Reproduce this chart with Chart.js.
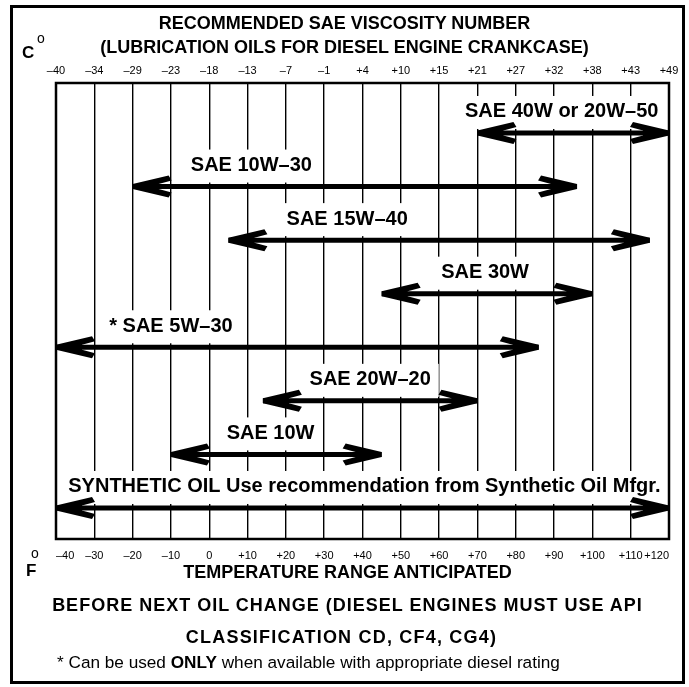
<!DOCTYPE html>
<html>
<head>
<meta charset="utf-8">
<title>Recommended SAE viscosity number</title>
<script src="https://cdn.jsdelivr.net/npm/chart.js@4.4.1/dist/chart.umd.min.js"></script>
<style>
  html, body { margin: 0; padding: 0; background: #fff; }
  body { width: 689px; height: 687px; position: relative; overflow: hidden; font-family: "Liberation Sans", Arial, sans-serif; color: #000; }
  #frame { position: absolute; left: 10px; top: 5px; width: 669px; height: 673px; border: 3px solid #000; }
  #oilChart { position: absolute; left: 0; top: 0; }
  .line { position: absolute; left: 0; width: 689px; text-align: center; white-space: nowrap; font-weight: bold; font-size: 18px; line-height: 1; }
  .unit { position: absolute; font-weight: bold; font-size: 17px; line-height: 1; }
  .deg { position: absolute; font-size: 14px; line-height: 1; }
  .note { position: absolute; left: 57px; top: 654px; white-space: nowrap; font-size: 17.2px; line-height: 1; }
</style>
</head>
<body>
<div id="frame"></div>
<canvas id="oilChart" width="689" height="687"></canvas>

<div class="line" style="top:14px">RECOMMENDED SAE VISCOSITY NUMBER</div>
<div class="line" style="top:38px">(LUBRICATION OILS FOR DIESEL ENGINE CRANKCASE)</div>
<div class="unit" style="left:22px; top:44px">C</div>
<div class="deg" style="left:37px; top:31px">o</div>
<div class="unit" style="left:26px; top:562px">F</div>
<div class="deg" style="left:31px; top:546px">o</div>

<div class="line" style="top:563px; left:3px">TEMPERATURE RANGE ANTICIPATED</div>
<div class="line" style="top:596px; left:3px; letter-spacing:1px">BEFORE NEXT OIL CHANGE (DIESEL ENGINES MUST USE API</div>
<div class="line" style="top:628px; left:-3px; letter-spacing:1.2px">CLASSIFICATION CD, CF4, CG4)</div>
<div class="note">* Can be used <b>ONLY</b> when available with appropriate diesel rating</div>

<script>
// oil grades, top to bottom, with the temperature span of each arrow (deg F)
const oilGrades = [
    "SAE 40W or 20W\u201350",
    "SAE 10W\u201330",
    "SAE 15W\u201340",
    "SAE 30W",
    "* SAE 5W\u201330",
    "SAE 20W\u201320",
    "SAE 10W",
    "SYNTHETIC OIL Use recommendation from Synthetic Oil Mfgr."
];
const lowTempF = [70, -20, 5, 45, -40, 14, -10, -40];
const highTempF = [120, 96, 115, 100, 86, 70, 45, 120];

// axis ticks: Fahrenheit along the bottom, matching Celsius along the top
const fahrenheitTicks = [-40, -30, -20, -10, 0, 10, 20, 30, 40, 50, 60, 70, 80, 90, 100, 110, 120];
const celsiusTicks = ["\u201340", "\u201334", "\u201329", "\u201323", "\u201318", "\u201313", "\u20137", "\u20131",
    "+4", "+10", "+15", "+21", "+27", "+32", "+38", "+43", "+49"];

// where each grade's caption sits along the temperature axis
const captionAtF = [92, 11, 36, 72, -10, 42, 16, 40.5];

const signed = (v) => (v > 0 ? "+" + v : v < 0 ? "\u2013" + Math.abs(v) : "0");

const datasets = oilGrades.map((name, i) => ({
    label: name,
    data: [{ x: lowTempF[i], y: i }, { x: highTempF[i], y: i }],
    showLine: true,
    borderColor: "#000",
    borderWidth: 5,
    borderCapStyle: "butt",
    pointRadius: 0,
    pointHoverRadius: 0,
    clip: false
}));

// barbed head, tip at (tx, ty); dir 1 = points right, -1 = points left
function drawHead(ctx, tx, ty, dir) {
    const p = (dx, dy) => [tx - dir * dx, ty + dy];
    const pts = [p(0, -2.5), p(36, -11), p(39, -6), p(26, -2.5), p(26, 2.5), p(39, 6), p(36, 11), p(0, 2.5)];
    ctx.beginPath();
    ctx.moveTo(pts[0][0], pts[0][1]);
    pts.slice(1).forEach(q => ctx.lineTo(q[0], q[1]));
    ctx.closePath();
    ctx.fill();
}

const arrowPlugin = {
    id: "arrows",
    beforeDatasetsDraw(chart) {
        const ctx = chart.ctx;
        const xs = chart.scales.x, ys = chart.scales.y;
        ctx.save();
        ctx.font = "bold 20px 'Liberation Sans', Arial, sans-serif";
        ctx.textAlign = "center";
        ctx.textBaseline = "middle";
        oilGrades.forEach((name, i) => {
            const cx = xs.getPixelForValue(captionAtF[i]);
            const rowY = ys.getPixelForValue(i);
            const w = ctx.measureText(name).width;
            ctx.fillStyle = "#fff";
            ctx.fillRect(cx - w / 2 - 8, rowY - 37, w + 16, 33);
            ctx.fillStyle = "#000";
            ctx.fillText(name, cx, rowY - 21);
        });
        ctx.restore();
    },
    afterDatasetsDraw(chart) {
        const ctx = chart.ctx;
        ctx.save();
        ctx.fillStyle = "#000";
        chart.data.datasets.forEach((ds, i) => {
            const pts = chart.getDatasetMeta(i).data;
            drawHead(ctx, pts[0].x, pts[0].y, -1);
            drawHead(ctx, pts[1].x, pts[1].y, 1);
        });
        const a = chart.chartArea;
        ctx.strokeStyle = "#000";
        ctx.lineWidth = 2.5;
        ctx.strokeRect(a.left, a.top, a.right - a.left, a.bottom - a.top);
        ctx.restore();
    }
};

const tickFont = { family: "'Liberation Sans', Arial, sans-serif", size: 11 };

new Chart(document.getElementById("oilChart").getContext("2d"), {
    type: "scatter",
    data: { datasets: datasets },
    options: {
        responsive: false,
        animation: false,
        devicePixelRatio: 1,
        events: [],
        layout: { padding: { left: 56, right: 20, top: 63, bottom: 118 } },
        plugins: { legend: { display: false }, tooltip: { enabled: false } },
        scales: {
            x: {
                type: "linear",
                position: "bottom",
                min: -40,
                max: 120,
                afterBuildTicks: (s) => { s.ticks = fahrenheitTicks.map(v => ({ value: v })); },
                afterFit: (s) => { s.height = 30; },
                grid: { color: "#000", lineWidth: 1.4, drawTicks: false },
                border: { display: false },
                ticks: {
                    color: "#000",
                    font: tickFont,
                    padding: 10,
                    align: "inner",
                    maxRotation: 0,
                    autoSkip: false,
                    callback: (v) => signed(v)
                }
            },
            x2: {
                type: "linear",
                position: "top",
                min: -40,
                max: 120,
                afterBuildTicks: (s) => { s.ticks = fahrenheitTicks.map(v => ({ value: v })); },
                afterFit: (s) => { s.height = 20; },
                grid: { display: false, drawTicks: false },
                border: { display: false },
                ticks: {
                    color: "#000",
                    font: tickFont,
                    padding: 5,
                    maxRotation: 0,
                    autoSkip: false,
                    callback: (v, i) => celsiusTicks[i]
                }
            },
            y: {
                type: "linear",
                display: false,
                reverse: true,
                min: -0.933,
                max: 7.579
            }
        }
    },
    plugins: [arrowPlugin]
});
</script>
</body>
</html>
